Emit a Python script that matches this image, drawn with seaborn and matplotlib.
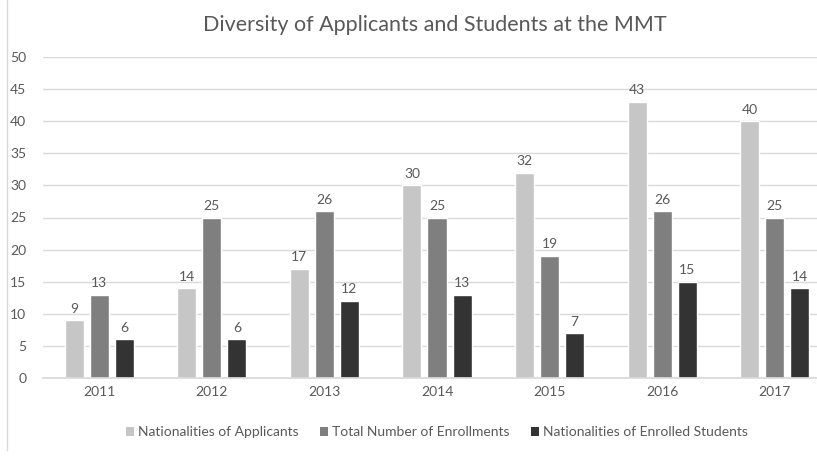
import matplotlib
matplotlib.use("Agg")
import matplotlib.pyplot as plt
import seaborn as sns
import pandas as pd
from matplotlib.lines import Line2D
from matplotlib.patches import Patch

years = ["2011", "2012", "2013", "2014", "2015", "2016", "2017"]
series_names = ["Nationalities of Applicants", "Total Number of Enrollments",
                "Nationalities of Enrolled Students"]
applicants = [9, 14, 17, 30, 32, 43, 40]
enrollments = [13, 25, 26, 25, 19, 26, 25]
enrolled_nat = [6, 6, 12, 13, 7, 15, 14]
y_ticks = [0, 5, 10, 15, 20, 25, 30, 35, 40, 45, 50]

colors = ["#c6c6c6", "#7f7f7f", "#333333"]
text_color = "#595959"

sns.set_theme(style="white")
plt.rcParams["font.family"] = ["Lato", "DejaVu Sans"]

df = pd.DataFrame({
    "year": years * 3,
    "series": [series_names[0]] * 7 + [series_names[1]] * 7 + [series_names[2]] * 7,
    "value": applicants + enrollments + enrolled_nat,
})

fig = plt.figure(figsize=(8.17, 4.63), dpi=100)
ax = fig.add_axes([43 / 817, 85 / 463, 788 / 817, 321 / 463])

sns.barplot(data=df, x="year", y="value", hue="series", palette=colors,
            width=0.667, gap=0.24, ax=ax, legend=False, saturation=1)

ax.set_ylim(0, 50)
ax.set_xlim(-0.5, 6.5)
ax.set_yticks(y_ticks)
ax.yaxis.grid(True, color="#d9d9d9", linewidth=1)
ax.set_axisbelow(True)
for s in ["top", "right", "left"]:
    ax.spines[s].set_visible(False)
ax.spines["bottom"].set_color("#d9d9d9")
ax.tick_params(axis="both", length=0, labelsize=10, labelcolor=text_color, pad=6)
ax.tick_params(axis="y", pad=12)
ax.set_xlabel("")
ax.set_ylabel("")

for cont in ax.containers:
    ax.bar_label(cont, fmt="%d", padding=4, fontsize=10, color=text_color)

fig.text(435 / 817, 1 - 25 / 463, "Diversity of Applicants and Students at the MMT",
         ha="center", va="center", fontsize=15.5, color=text_color)

handles = [Patch(facecolor=c, edgecolor="none") for c in colors]
fig.legend(handles, series_names, loc="center", bbox_to_anchor=(437 / 817, 1 - 432 / 463),
           ncol=3, frameon=False, fontsize=10, labelcolor=text_color,
           handlelength=0.6, handleheight=0.6, handletextpad=0.3, columnspacing=1.5)

fig.add_artist(Line2D([7 / 817, 7 / 817], [1 - 450 / 463, 1.0], color="#d9d9d9",
                      linewidth=1, transform=fig.transFigure))

fig.savefig("out.png", dpi=100, facecolor="white")
